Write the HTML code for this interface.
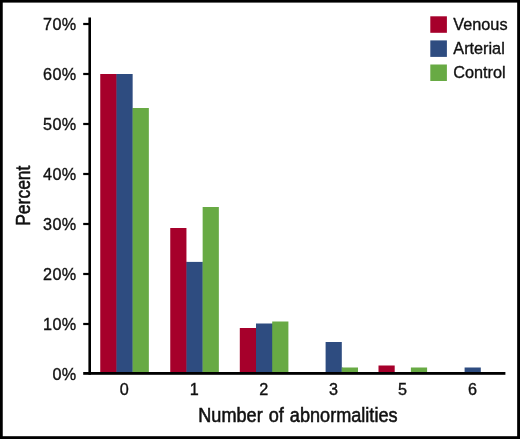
<!DOCTYPE html>
<html><head><meta charset="utf-8"><title>Number of abnormalities</title>
<style>
html,body{margin:0;padding:0;background:#fff;}
svg{display:block;}
text{font-family:"Liberation Sans",Arial,Helvetica,sans-serif;fill:#111;stroke:#111;stroke-width:0.35px;}
text.t{stroke-width:0.55px;}
</style></head><body>
<svg width="520" height="439" viewBox="0 0 520 439">
<rect x="0" y="0" width="520" height="439" fill="#000"/>
<rect x="2.75" y="2.6" width="514.4" height="433.6" fill="#fff"/>
<rect x="100.25" y="74.00" width="16.20" height="299.00" fill="#A6002B"/>
<rect x="116.25" y="74.00" width="1" height="299.00" fill="#A6002B"/>
<rect x="116.45" y="74.00" width="16.20" height="299.00" fill="#2E4C80"/>
<rect x="132.45" y="108.00" width="1" height="265.00" fill="#2E4C80"/>
<rect x="132.65" y="108.00" width="16.20" height="265.00" fill="#68AA44"/>
<rect x="170.25" y="228.00" width="16.20" height="145.00" fill="#A6002B"/>
<rect x="186.25" y="261.90" width="1" height="111.10" fill="#A6002B"/>
<rect x="186.45" y="261.90" width="16.20" height="111.10" fill="#2E4C80"/>
<rect x="202.45" y="261.90" width="1" height="111.10" fill="#2E4C80"/>
<rect x="202.65" y="207.00" width="16.20" height="166.00" fill="#68AA44"/>
<rect x="239.80" y="328.00" width="16.20" height="45.00" fill="#A6002B"/>
<rect x="255.80" y="328.00" width="1" height="45.00" fill="#A6002B"/>
<rect x="256.00" y="323.50" width="16.20" height="49.50" fill="#2E4C80"/>
<rect x="272.00" y="323.50" width="1" height="49.50" fill="#2E4C80"/>
<rect x="272.20" y="321.50" width="16.20" height="51.50" fill="#68AA44"/>
<rect x="325.60" y="342.00" width="16.20" height="31.00" fill="#2E4C80"/>
<rect x="341.60" y="367.50" width="1" height="5.50" fill="#2E4C80"/>
<rect x="341.80" y="367.50" width="16.20" height="5.50" fill="#68AA44"/>
<rect x="378.50" y="365.50" width="16.20" height="7.50" fill="#A6002B"/>
<rect x="410.90" y="367.50" width="16.20" height="5.50" fill="#68AA44"/>
<rect x="464.60" y="367.50" width="16.20" height="5.50" fill="#2E4C80"/>
<rect x="88.4" y="17.5" width="2.6" height="357.2" fill="#000"/>
<rect x="83.2" y="372.0" width="422.2" height="2.8" fill="#000"/>
<rect x="83.2" y="322.90" width="6" height="2.2" fill="#000"/>
<rect x="83.2" y="272.90" width="6" height="2.2" fill="#000"/>
<rect x="83.2" y="222.90" width="6" height="2.2" fill="#000"/>
<rect x="83.2" y="172.90" width="6" height="2.2" fill="#000"/>
<rect x="83.2" y="122.90" width="6" height="2.2" fill="#000"/>
<rect x="83.2" y="72.90" width="6" height="2.2" fill="#000"/>
<rect x="83.2" y="22.90" width="6" height="2.2" fill="#000"/>
<text x="76.7" y="379.75" font-size="16.2" letter-spacing="0.45" text-anchor="end">0%</text>
<text x="76.7" y="329.75" font-size="16.2" letter-spacing="0.45" text-anchor="end">10%</text>
<text x="76.7" y="279.75" font-size="16.2" letter-spacing="0.45" text-anchor="end">20%</text>
<text x="76.7" y="229.75" font-size="16.2" letter-spacing="0.45" text-anchor="end">30%</text>
<text x="76.7" y="179.75" font-size="16.2" letter-spacing="0.45" text-anchor="end">40%</text>
<text x="76.7" y="129.75" font-size="16.2" letter-spacing="0.45" text-anchor="end">50%</text>
<text x="76.7" y="79.75" font-size="16.2" letter-spacing="0.45" text-anchor="end">60%</text>
<text x="76.7" y="29.75" font-size="16.2" letter-spacing="0.45" text-anchor="end">70%</text>
<text x="124.25" y="394.7" font-size="16.2" text-anchor="middle">0</text>
<text x="194.25" y="394.7" font-size="16.2" text-anchor="middle">1</text>
<text x="263.80" y="394.7" font-size="16.2" text-anchor="middle">2</text>
<text x="333.40" y="394.7" font-size="16.2" text-anchor="middle">3</text>
<text x="402.50" y="394.7" font-size="16.2" text-anchor="middle">5</text>
<text x="472.40" y="394.7" font-size="16.2" text-anchor="middle">6</text>
<text transform="translate(297.9,421.5) scale(0.92,1)" font-size="19.7" word-spacing="1.1" class="t" text-anchor="middle">Number of abnormalities</text>
<text transform="translate(29.6,195.7) rotate(-90) scale(0.89,1)" font-size="19.7" class="t" text-anchor="middle">Percent</text>
<rect x="430.3" y="16.30" width="16.6" height="16.5" fill="#A6002B"/>
<text x="453.3" y="29.50" font-size="16.25">Venous</text>
<rect x="430.3" y="40.40" width="16.6" height="16.5" fill="#2E4C80"/>
<text x="453.3" y="53.60" font-size="16.25">Arterial</text>
<rect x="430.3" y="64.50" width="16.6" height="16.5" fill="#68AA44"/>
<text x="453.3" y="77.70" font-size="16.25">Control</text>
</svg>
</body></html>
